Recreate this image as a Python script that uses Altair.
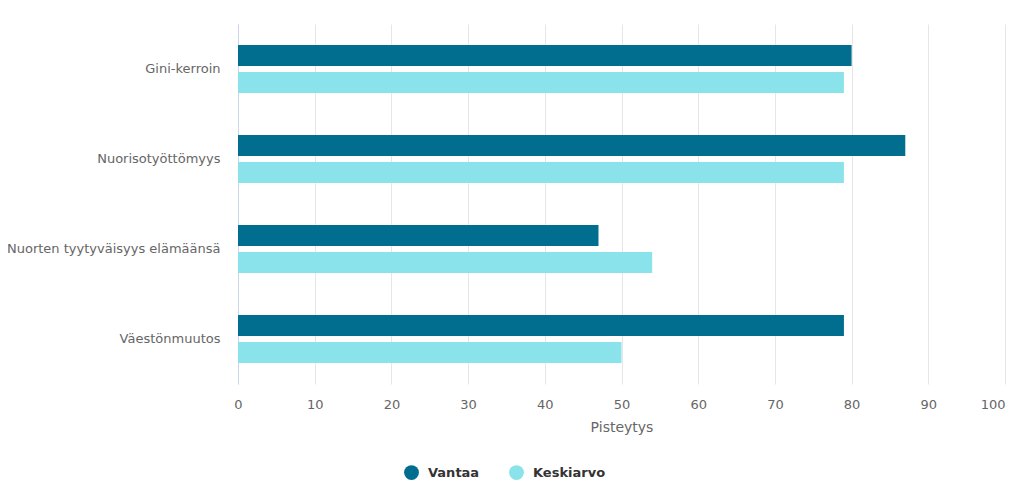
import altair as alt
import pandas as pd

categories = ["Gini-kerroin", "Nuorisotyöttömyys", "Nuorten tyytyväisyys elämäänsä", "Väestönmuutos"]
series = ["Vantaa", "Keskiarvo"]
vantaa = [80, 87, 47, 79]
keskiarvo = [79, 79, 54, 50]
colors = ["#016e8f", "#8ae3ea"]

rows = []
for c, v, k in zip(categories, vantaa, keskiarvo):
    rows.append({"kategoria": c, "sarja": "Vantaa", "arvo": v})
    rows.append({"kategoria": c, "sarja": "Keskiarvo", "arvo": k})
df = pd.DataFrame(rows)

font = "DejaVu Sans"

chart = alt.Chart(df).mark_bar().encode(
    y=alt.Y("kategoria:N", sort=categories,
            scale=alt.Scale(paddingInner=0, paddingOuter=0),
            axis=alt.Axis(title=None, ticks=False, domain=True, domainColor="#ccd6eb",
                          labelFont=font, labelFontSize=13, labelColor="#666666",
                          labelPadding=18, labelLimit=300, grid=False)),
    yOffset=alt.YOffset("sarja:N", sort=series,
                        scale=alt.Scale(paddingInner=0.222, paddingOuter=0.778)),
    x=alt.X("arvo:Q", scale=alt.Scale(domain=[0, 100], nice=False),
            axis=alt.Axis(title="Pisteytys", values=list(range(0, 101, 10)),
                          domain=False, ticks=False, grid=True, gridColor="#e6e6e6",
                          labelFlush=False,
                          labelAlign=alt.ExprRef(expr="datum.value == 100 ? 'right' : 'center'"),
                          labelFont=font, labelFontSize=13, labelColor="#666666",
                          labelPadding=14, titleFont=font, titleFontSize=14,
                          titleFontWeight="normal", titleColor="#666666", titlePadding=9)),
    color=alt.Color("sarja:N", sort=series,
                    scale=alt.Scale(domain=series, range=colors),
                    legend=alt.Legend(title=None, orient="none", legendX=166, legendY=441,
                                      direction="horizontal", symbolType="circle",
                                      symbolSize=220, symbolStrokeWidth=0,
                                      labelFont=font, labelFontSize=13, labelFontWeight="bold",
                                      labelColor="#333333", columnPadding=29, labelOffset=9)),
).properties(
    width=767, height=360,
    autosize=alt.AutoSizeParams(type="none"),
    padding={"left": 230, "top": 16, "right": 10, "bottom": 110},
).configure_view(stroke=None)

chart.save("out.html", embed_options={"renderer": "svg", "actions": False})
